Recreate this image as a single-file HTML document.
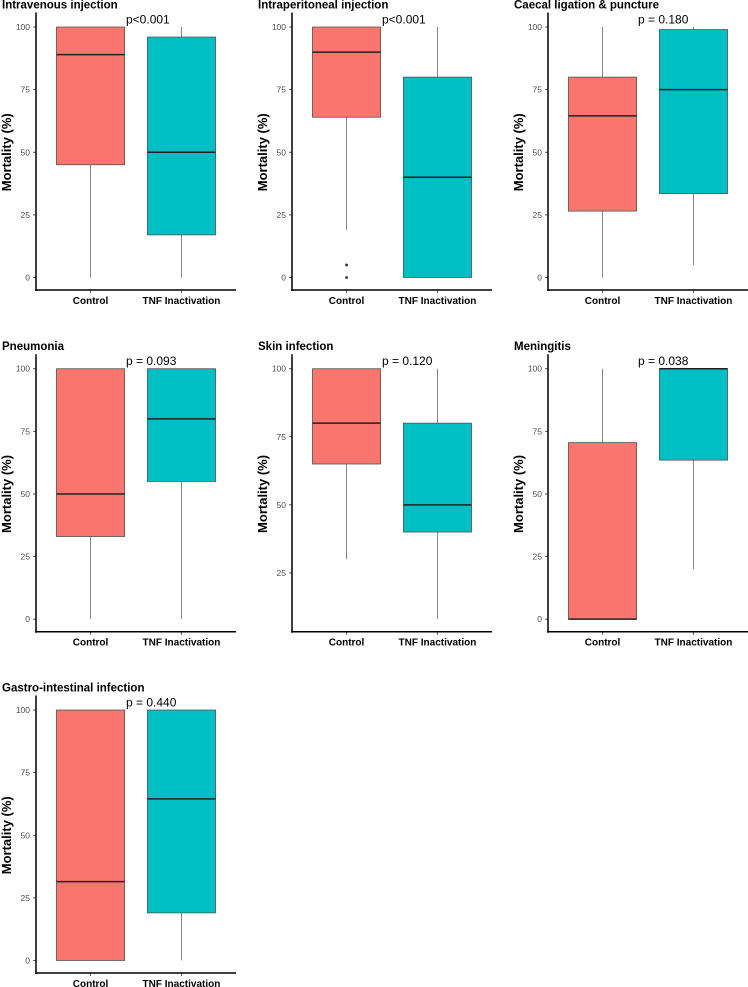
<!DOCTYPE html>
<html><head><meta charset="utf-8">
<style>
html,body{margin:0;padding:0;background:#fff;}
svg{display:block;font-family:"Liberation Sans",Arial,sans-serif;}
</style></head>
<body>
<svg id="chart" width="748" height="987" viewBox="0 0 748 987" xmlns="http://www.w3.org/2000/svg"></svg>
<script>
// Panel data
const titles = ["Intravenous injection","Intraperitoneal injection","Caecal ligation & puncture","Pneumonia","Skin infection","Meningitis","Gastro-intestinal infection"];
const pValues = ["p<0.001","p<0.001","p = 0.180","p = 0.093","p = 0.120","p = 0.038","p = 0.440"];
const categories = ["Control","TNF Inactivation"];
// [whiskerLow, q1, median, q3, whiskerHigh] for Control
const controlStats = [
  [0,45,89,100,100],
  [19,64,90,100,100],
  [0,26.5,64.5,80,100],
  [0,33,50,100,100],
  [30,65,80,100,100],
  [0,0,0,70.5,100],
  [0,0,31.5,100,100]
];
// [whiskerLow, q1, median, q3, whiskerHigh] for TNF Inactivation
const tnfStats = [
  [0,17,50,96,100],
  [0,0,40,80,100],
  [5,33.5,75,99,100],
  [0,55,80,100,100],
  [8,40,50,80,100],
  [20,63.5,100,100,100],
  [0,19,64.5,100,100]
];
// outliers per panel: [controlOutliers, tnfOutliers]
const outliers = [
  [[],[]],[[5,0],[]],[[],[]],[[],[]],[[],[]],[[],[]],[[],[]]
];
const tickValues = [0,25,50,75,100];
const fills = ["#F8766D","#00BFC4"];

const svg = document.getElementById('chart');
const NS = "http://www.w3.org/2000/svg";
function mk(tag, attrs, parent){
  const e = document.createElementNS(NS, tag);
  for (const k in attrs) e.setAttribute(k, attrs[k]);
  (parent||svg).appendChild(e);
  return e;
}
const colX = [36,292,548];
const rowTop = [14.5,356.2,697.5];
const plotH = 275.5;
const plotW = 200;

titles.forEach((t, i) => {
  const col = i % 3, row = Math.floor(i / 3);
  const ax = colX[col], top = rowTop[row], bottom = top + plotH;
  const g = mk('g', {});
  
  
  const all = controlStats[i].concat(tnfStats[i], outliers[i][0], outliers[i][1]);
  const mn = Math.min(...all), mx = Math.max(...all);
  const pad = (mx - mn) * 0.05;
  const lo = mn - pad, hi = mx + pad;
  const y = v => bottom - (v - lo) / (hi - lo) * plotH;
  const x = c => ax + (c + 1 - 0.4) / 2.2 * plotW;
  const bw = 0.75 / 2.2 * plotW;

  // title
  const tt = mk('text', {x: ax - 34, y: top - 6, 'font-size': 11.5, 'font-weight': 'bold', fill: '#000'}, g);
  tt.textContent = t;
  
  
  // y label
  const yl = mk('text', {x: 0, y: 0, transform: `translate(${ax-25},${(top+bottom)/2}) rotate(-90)`, 'text-anchor': 'middle', 'font-size': 13, 'font-weight': 'bold', fill: '#000'}, g);
  yl.textContent = 'Mortality (%)';
  
  
  // ticks
  tickValues.forEach(v => {
    if (v < lo || v > hi) return;
    const ty = y(v);
    const tl = mk('line', {x1: ax-3, x2: ax, y1: ty, y2: ty, stroke: '#333', 'stroke-width': 0.8}, g);
    
    
    const tx = mk('text', {x: ax-6, y: ty+3, 'text-anchor': 'end', 'font-size': 8.5, fill: '#4d4d4d'}, g);
    tx.textContent = v;
    
    
  });
  // boxes
  [controlStats[i], tnfStats[i]].forEach((s, c) => {
    const cx = x(c);
    const wl = mk('line', {x1: cx, x2: cx, y1: y(s[0]), y2: y(s[4]), stroke: '#666', 'stroke-width': 0.8}, g);
    
    
    const r = mk('rect', {x: cx - bw/2, y: y(s[3]), width: bw, height: Math.max(0.5, y(s[1]) - y(s[3])), fill: fills[c], stroke: '#555', 'stroke-width': 0.8}, g);
    
    
    const md = mk('line', {x1: cx - bw/2, x2: cx + bw/2, y1: y(s[2]), y2: y(s[2]), stroke: '#222', 'stroke-width': 1.5}, g);
    
    
    outliers[i][c].forEach(o => {
      const p = mk('circle', {cx: cx, cy: y(o), r: 1.4, fill: '#333'}, g);
      
      
    });
    const cl = mk('text', {x: cx, y: bottom + 14, 'text-anchor': 'middle', 'font-size': 10, 'font-weight': 'bold', fill: '#000'}, g);
    cl.textContent = categories[c];
    
    
    const xt = mk('line', {x1: cx, x2: cx, y1: bottom, y2: bottom+3, stroke: '#333', 'stroke-width': 0.8}, g);
    
    
  });
  // axes
  const ya = mk('line', {x1: ax, x2: ax, y1: top - 2, y2: bottom + 1, stroke: '#000', 'stroke-width': 1.5}, g);
  
  
  const xa = mk('line', {x1: ax - 0.7, x2: ax + plotW, y1: bottom, y2: bottom, stroke: '#000', 'stroke-width': 1.5}, g);
  
  
  // p value
  const pv = mk('text', {x: ax + 90, y: top + 9, 'font-size': 12, fill: '#000'}, g);
  pv.textContent = pValues[i];
  
  
});
</script>
</body></html>
